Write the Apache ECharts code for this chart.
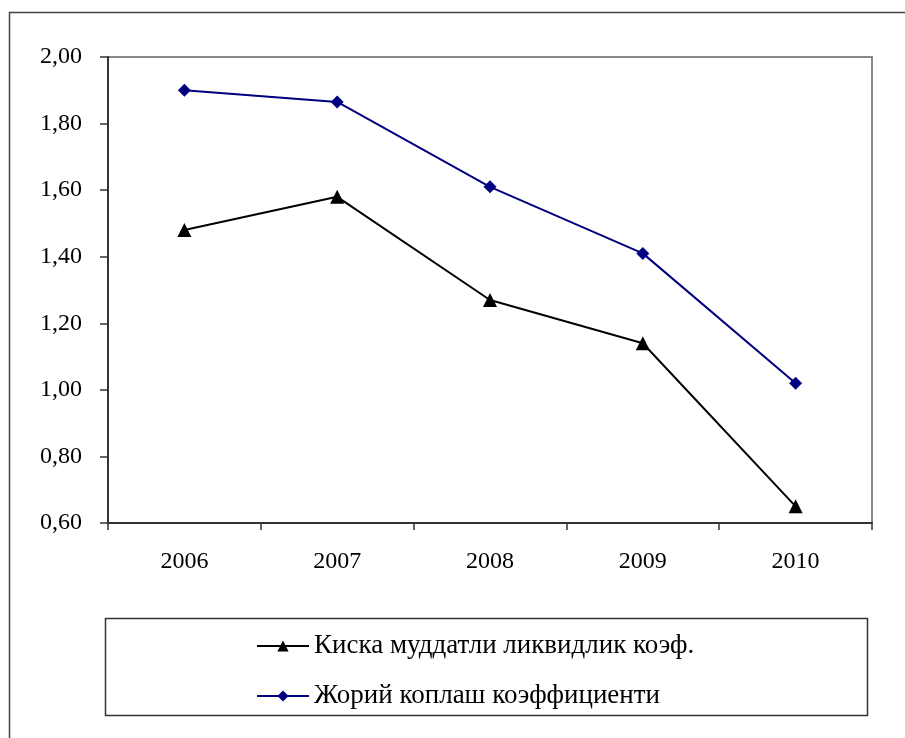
<!DOCTYPE html>
<html>
<head>
<meta charset="utf-8">
<script src="https://cdn.jsdelivr.net/npm/echarts@6/dist/echarts.min.js"></script>
<style>html,body{margin:0;padding:0;background:#fff;}#c{width:905px;height:738px;}</style>
</head>
<body>
<div id="c"></div>
<script>
var categories = ['2006', '2007', '2008', '2009', '2010'];
var quickRatio = [1.48, 1.58, 1.27, 1.14, 0.65];
var currentRatio = [1.90, 1.865, 1.61, 1.41, 1.02];
var seriesNames = ['Киска муддатли ликвидлик коэф.', 'Жорий коплаш коэффициенти'];
var yMin = 0.6, yMax = 2.0, yStep = 0.2;

var font = '"Liberation Serif", "Times New Roman", serif';
var chart = echarts.init(document.getElementById('c'), null, {renderer: 'canvas'});
chart.setOption({
  animation: false,
  backgroundColor: '#fff',
  grid: {left: 108, right: 33, top: 57, bottom: 215, show: true, borderColor: '#888', borderWidth: 2, backgroundColor: 'transparent'},
  graphic: [
    {type: 'rect', shape: {x: 9.5, y: 12.5, width: 910, height: 740}, style: {fill: 'none', stroke: '#444', lineWidth: 1.5}, z: 0},
    {type: 'rect', shape: {x: 105.5, y: 618.5, width: 762, height: 97}, style: {fill: 'none', stroke: '#333', lineWidth: 1.5}, z: 0}
  ],
  legend: {
    orient: 'vertical', left: 251, top: 627,
    itemWidth: 52, itemHeight: 14, itemGap: 22,
    textStyle: {fontFamily: font, fontSize: 27, color: '#000', lineHeight: 28},
    data: seriesNames
  },
  xAxis: {
    type: 'category', data: categories, boundaryGap: true,
    axisLine: {lineStyle: {color: '#333', width: 2}},
    axisTick: {show: true, length: 7, lineStyle: {color: '#333', width: 1.5}, alignWithLabel: false},
    axisLabel: {fontFamily: font, fontSize: 24, color: '#000', margin: 27},
    splitLine: {show: false}
  },
  yAxis: {
    type: 'value', min: yMin, max: yMax, interval: yStep,
    axisLine: {show: true, lineStyle: {color: '#333', width: 2}},
    axisTick: {show: true, length: 8, lineStyle: {color: '#333', width: 1.5}},
    axisLabel: {fontFamily: font, fontSize: 24, color: '#000', margin: 26,
      formatter: function (v) { return v.toFixed(2).replace('.', ','); }},
    splitLine: {show: false}
  },
  series: [
    {name: seriesNames[0], type: 'line', data: quickRatio, symbol: 'triangle', symbolSize: 14,
      lineStyle: {color: '#000', width: 2}, itemStyle: {color: '#000'}},
    {name: seriesNames[1], type: 'line', data: currentRatio, symbol: 'diamond', symbolSize: 13,
      lineStyle: {color: '#000080', width: 2}, itemStyle: {color: '#000080'}}
  ]
});
</script>
</body>
</html>
